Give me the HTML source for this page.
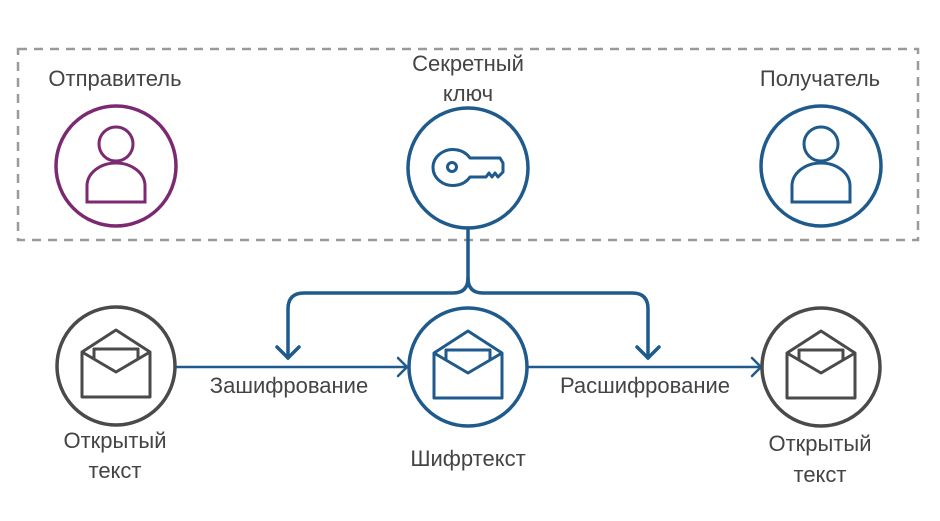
<!DOCTYPE html>
<html><head><meta charset="utf-8"><style>
html,body{margin:0;padding:0;background:#fff;}
svg{display:block;}
text{font-family:"Liberation Sans","DejaVu Sans",sans-serif;font-size:22px;fill:#444;}
</style></head><body>
<svg width="940" height="521" viewBox="0 0 940 521">
<defs>
<g id="person" fill="none" stroke-width="3">
<circle cx="0" cy="-22" r="17"/>
<path d="M-29,36 L-29,20 A29,23 0 0 1 29,20 L29,36 Z"/>
</g>
<g id="env" fill="none" stroke-width="3" stroke-linejoin="round">
<path d="M-34,-14 L0,-36 L34,-14 L34,31 L-34,31 Z"/>
<path d="M-22,-6 L-22,-17 L22,-17 L22,-6"/>
<path d="M-34,-14 L0,6 L34,-14"/>
</g>
</defs>
<rect x="18" y="49" width="900" height="191" fill="none" stroke="#9a9a9a" stroke-width="2.5" stroke-dasharray="9,7"/>
<text x="115" y="86" text-anchor="middle">Отправитель</text>
<text x="468" y="71" text-anchor="middle">Секретный</text>
<text x="468" y="101" text-anchor="middle">ключ</text>
<text x="820" y="86" text-anchor="middle">Получатель</text>
<circle cx="116" cy="166" r="60" fill="none" stroke="#7b2a72" stroke-width="3.5"/>
<use href="#person" x="116" y="166" stroke="#7b2a72"/>
<circle cx="821" cy="166" r="60" fill="none" stroke="#1f5a8c" stroke-width="3.5"/>
<use href="#person" x="821" y="166" stroke="#1f5a8c"/>
<circle cx="468" cy="168" r="60" fill="none" stroke="#1f5a8c" stroke-width="3.5"/>
<g transform="translate(468,168)" fill="none" stroke="#1f5a8c" stroke-width="3" stroke-linejoin="round">
<path d="M2,-10 A20,18 0 1 0 2,9 L18,9 L21,5 L24,9 L27,5 L30,9 L35,4 L35,-5 L32,-10 Z"/>
<circle cx="-16" cy="-1" r="4.5"/>
</g>
<g fill="none" stroke="#1f5a8c" stroke-width="3.5" stroke-linecap="round" stroke-linejoin="round">
<path d="M468,228 L468,278 Q468,293 453,293 L304,293 Q288,293 288,309 L288,358"/>
<path d="M468,278 Q468,293 483,293 L632,293 Q648,293 648,309 L648,358"/>
<path d="M277,347 L288,358 L299,347"/>
<path d="M637,347 L648,358 L659,347"/>
</g>
<g fill="none" stroke="#1f5a8c" stroke-width="2.5" stroke-linecap="round" stroke-linejoin="round">
<path d="M176,367 L407,367"/>
<path d="M398,358 L407,367 L398,376"/>
<path d="M528,367 L761,367"/>
<path d="M752,358 L761,367 L752,376"/>
</g>
<circle cx="116" cy="366" r="59" fill="none" stroke="#4a4a4a" stroke-width="3.5"/>
<use href="#env" x="116" y="366" stroke="#4a4a4a"/>
<circle cx="468" cy="367" r="59" fill="none" stroke="#1f5a8c" stroke-width="3.5"/>
<use href="#env" x="468" y="367" stroke="#1f5a8c"/>
<circle cx="821" cy="367" r="59" fill="none" stroke="#4a4a4a" stroke-width="3.5"/>
<use href="#env" x="821" y="367" stroke="#4a4a4a"/>
<text x="289" y="393" text-anchor="middle">Зашифрование</text>
<text x="645" y="393" text-anchor="middle">Расшифрование</text>
<text x="115" y="448" text-anchor="middle">Открытый</text>
<text x="115" y="478" text-anchor="middle">текст</text>
<text x="468" y="466" text-anchor="middle">Шифртекст</text>
<text x="820" y="451" text-anchor="middle">Открытый</text>
<text x="820" y="482" text-anchor="middle">текст</text>
</svg>
</body></html>
